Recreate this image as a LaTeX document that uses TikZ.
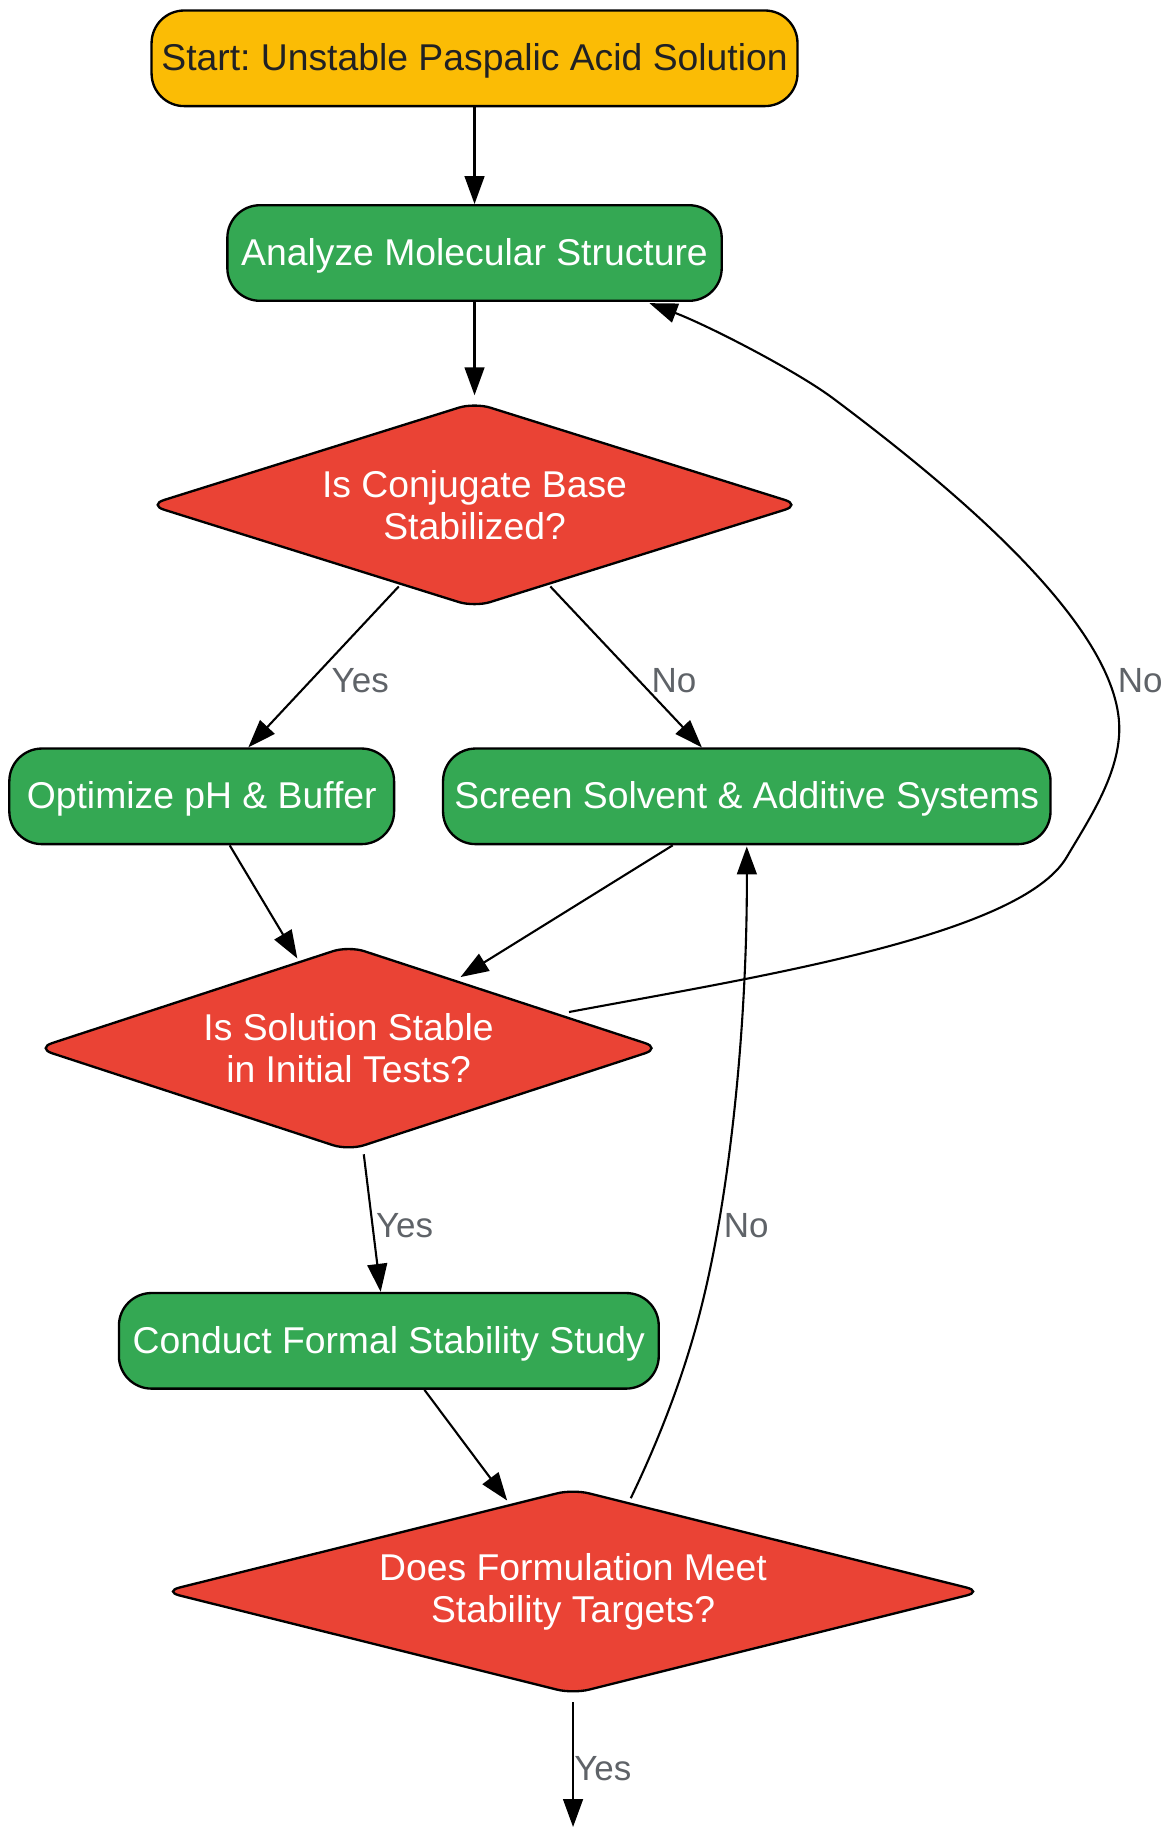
\documentclass[tikz,border=0pt]{standalone}
\usepackage{fontspec}
\setmainfont{Liberation Sans}
\usetikzlibrary{shapes.geometric,arrows.meta,calc}
\definecolor{cyellow}{HTML}{FBBC05}
\definecolor{cgreen}{HTML}{34A853}
\definecolor{cred}{HTML}{EA4335}
\definecolor{cgray}{HTML}{5F6368}
\definecolor{cdark}{HTML}{202124}
\frenchspacing
\begin{document}
\begin{tikzpicture}[x=1pt,y=-1pt,
  box/.style={rectangle, rounded corners=28pt, draw=black, line width=2pt,
    minimum height=82pt, inner sep=0pt, fill=cgreen, text=white,
    text height=28pt, text depth=7pt,
    font=\fontsize{32pt}{36pt}\selectfont},
  dia/.style={diamond, rounded corners=14pt, draw=black, line width=2pt,
    fill=cred, text=white, inner sep=0pt, align=center,
    font=\fontsize{32pt}{36pt}\selectfont},
  conn/.style={-{Triangle[length=24pt,width=17pt]}, line width=1.8pt},
  lbl/.style={text=cgray, inner sep=0pt, font=\fontsize{30pt}{34pt}\selectfont}]
\useasboundingbox (0,0) rectangle (1000,1567);

% nodes
\node[box, fill=cyellow, text=cdark, minimum width=554pt] (start) at (407,50) {Start: Unstable Paspalic Acid Solution};
\node[box, minimum width=424pt] (analyze) at (407,217) {Analyze Molecular Structure};
\node[dia, aspect=3.2, minimum width=560pt, minimum height=176pt] (d1) at (407,433) {Is Conjugate Base\\Stabilized?};
\node[box, minimum width=330pt] (opt) at (173,683) {Optimize pH \& Buffer};
\node[box, minimum width=521pt] (scr) at (640.5,683) {Screen Solvent \& Additive Systems};
\node[dia, aspect=3.05, minimum width=536pt, minimum height=176pt] (d2) at (299,899) {Is Solution Stable\\in Initial Tests?};
\node[box, minimum width=463pt] (cond) at (333.5,1150) {Conduct Formal Stability Study};
\node[dia, aspect=4.0, minimum width=703pt, minimum height=176pt] (d3) at (491.5,1365) {Does Formulation Meet\\Stability Targets?};
\coordinate (finish) at (491.5,1567);

% connectors
\draw[conn] (start.south) -- (analyze.north);
\draw[conn] (analyze.south) -- ($(d1.north)+(0,-5)$);
\draw[conn] ($(d1.center)+(-65,70)$) -- ($(opt.north)+(40,0)$);
\draw[conn] ($(d1.center)+(65,70)$) -- ($(scr.north)+(-38.5,0)$);
\draw[conn] ($(opt.south)+(24,0)$) -- ($(d2.center)+(-44,-77)$);
\draw[conn] ($(scr.south)+(-63.5,0)$) -- ($(d2.center)+(96,-61)$);
\draw[conn] ($(d2.center)+(189,-31)$)
   .. controls (648,838) and (875,803) .. (915,735)
   .. controls (932.5,705) and (960,665) .. (960,625)
   .. controls (960,535) and (811,414) .. (715,342)
   .. controls (683,318) and (607,279) .. ($(analyze.south)+(150,1)$);
\draw[conn] ($(d2.south)+(13,2)$) -- ($(cond.north)+(-7,0)$);
\draw[conn] ($(cond.south)+(30.5,0)$) -- ($(d3.center)+(-56.5,-78)$);
\draw[conn] ($(d3.center)+(49.5,-80)$)
   .. controls (567,1231) and (589,1173) .. (603,1115)
   .. controls (626.7,1018) and (641,875) .. ($(scr.south)+(0,1)$);
\draw[conn] ($(d3.south)+(0,6)$) -- (finish);

% labels
\node[lbl] (l1) at (309,584) {Yes};
\node[lbl] (l2) at (578,584) {No};
\node[lbl] (l3) at (978,584) {No};
\node[lbl] (l4) at (347,1051) {Yes};
\node[lbl] (l5) at (640,1051) {No};
\node[lbl] (l6) at (517,1517) {Yes};
\end{tikzpicture}
\end{document}
